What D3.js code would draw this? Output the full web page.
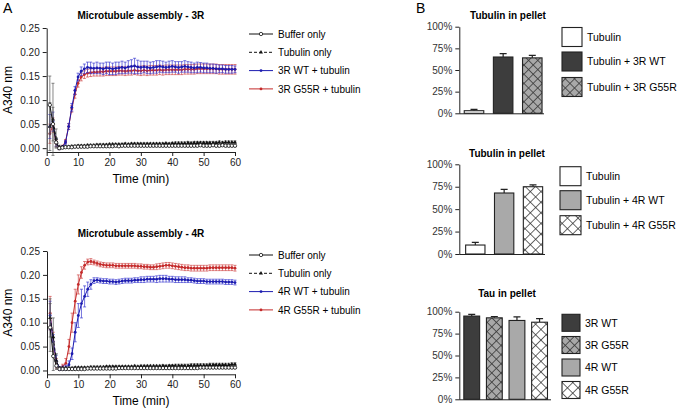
<!DOCTYPE html>
<html>
<head>
<meta charset="utf-8">
<script src="https://cdn.jsdelivr.net/npm/d3@7"></script>
<style>
  html, body { margin: 0; padding: 0; background: #fff; }
  svg { display: block; font-family: "Liberation Sans", Arial, sans-serif; }
</style>
</head>
<body>
<div id="chart"></div>
<script>
// ---- data ----
const times = d3.range(1, 61); // one reading per minute

// 3R panel
const buffer3R = [0.090,0.050,0.012,0.000,0.001,0.002,0.002,0.002,0.003,0.003,
  0.003,0.003,0.003,0.004,0.004,0.004,0.004,0.004,0.004,0.004,
  0.004,0.005,0.004,0.005,0.005,0.005,0.005,0.005,0.005,0.005,
  0.005,0.005,0.005,0.005,0.005,0.005,0.005,0.005,0.005,0.005,
  0.005,0.005,0.005,0.005,0.005,0.005,0.005,0.005,0.006,0.005,
  0.005,0.005,0.006,0.005,0.005,0.006,0.005,0.005,0.005,0.005];
const buffer3RErr = [0.060,0.035,0.010,0.003,0.002,0.002,0.002,0.002,0.002,0.002,
  0.002,0.002,0.002,0.002,0.002,0.002,0.002,0.002,0.002,0.002,
  0.002,0.002,0.002,0.002,0.002,0.002,0.002,0.002,0.002,0.002,
  0.002,0.002,0.002,0.002,0.002,0.002,0.002,0.002,0.002,0.002,
  0.002,0.002,0.002,0.002,0.002,0.002,0.002,0.002,0.002,0.002,
  0.002,0.002,0.002,0.002,0.002,0.002,0.002,0.002,0.002,0.002];
const tubulin3R = [0.045,0.060,0.020,0.002,0.002,0.003,0.003,0.004,0.004,0.005,
  0.005,0.005,0.006,0.006,0.006,0.007,0.007,0.007,0.007,0.008,
  0.008,0.008,0.008,0.008,0.009,0.008,0.009,0.009,0.009,0.009,
  0.009,0.009,0.009,0.009,0.009,0.009,0.009,0.010,0.009,0.010,
  0.010,0.010,0.010,0.010,0.011,0.010,0.011,0.011,0.011,0.011,
  0.011,0.011,0.011,0.011,0.012,0.011,0.012,0.012,0.012,0.012];
const tubulin3RErr = [0.050,0.075,0.020,0.004,0.002,0.002,0.002,0.002,0.002,0.002,
  0.002,0.002,0.002,0.002,0.002,0.002,0.002,0.002,0.002,0.002,
  0.002,0.002,0.002,0.002,0.002,0.002,0.002,0.002,0.002,0.002,
  0.002,0.002,0.002,0.002,0.002,0.002,0.002,0.002,0.002,0.002,
  0.003,0.003,0.003,0.003,0.003,0.003,0.003,0.003,0.003,0.003,
  0.003,0.003,0.003,0.003,0.003,0.003,0.003,0.003,0.003,0.003];
const wt3R = [0.045,0.055,0.012,0.000,0.002,0.012,0.045,0.085,0.120,0.148,
  0.160,0.165,0.168,0.167,0.166,0.167,0.166,0.165,0.167,0.166,
  0.165,0.166,0.167,0.168,0.167,0.169,0.170,0.171,0.169,0.168,
  0.169,0.168,0.167,0.168,0.169,0.170,0.169,0.168,0.169,0.170,
  0.169,0.168,0.169,0.170,0.169,0.168,0.167,0.168,0.168,0.167,
  0.167,0.166,0.166,0.165,0.165,0.165,0.164,0.164,0.164,0.164];
const wt3RErr = [0.025,0.020,0.008,0.003,0.003,0.004,0.006,0.008,0.008,0.008,
  0.009,0.010,0.011,0.012,0.011,0.012,0.011,0.012,0.012,0.013,
  0.012,0.013,0.012,0.013,0.012,0.013,0.014,0.016,0.014,0.013,
  0.012,0.013,0.012,0.012,0.013,0.012,0.012,0.011,0.012,0.012,
  0.011,0.012,0.011,0.012,0.011,0.011,0.010,0.011,0.010,0.010,
  0.010,0.009,0.009,0.009,0.008,0.008,0.008,0.008,0.008,0.007];
const g55r3R = [0.030,0.048,0.010,0.000,0.003,0.014,0.045,0.082,0.112,0.135,
  0.148,0.153,0.156,0.157,0.158,0.158,0.159,0.159,0.160,0.160,
  0.160,0.160,0.161,0.161,0.160,0.161,0.161,0.162,0.161,0.161,
  0.162,0.161,0.162,0.162,0.162,0.163,0.162,0.163,0.163,0.163,
  0.163,0.163,0.163,0.164,0.164,0.164,0.164,0.165,0.165,0.165,
  0.165,0.165,0.165,0.165,0.164,0.164,0.164,0.164,0.164,0.164];
const g55r3RErr = [0.020,0.015,0.007,0.003,0.003,0.004,0.006,0.007,0.008,0.008,
  0.008,0.008,0.008,0.008,0.008,0.008,0.009,0.009,0.009,0.009,
  0.009,0.009,0.009,0.009,0.009,0.009,0.009,0.009,0.009,0.010,
  0.010,0.010,0.010,0.010,0.010,0.010,0.010,0.010,0.010,0.010,
  0.010,0.010,0.010,0.010,0.010,0.010,0.010,0.010,0.010,0.010,
  0.010,0.010,0.010,0.010,0.010,0.010,0.010,0.010,0.010,0.010];

// 4R panel
const buffer4R = [0.090,0.030,0.010,0.003,0.003,0.003,0.003,0.003,0.003,0.003,
  0.003,0.003,0.004,0.004,0.004,0.004,0.004,0.004,0.004,0.004,
  0.004,0.004,0.005,0.005,0.005,0.005,0.005,0.005,0.005,0.005,
  0.005,0.005,0.005,0.005,0.005,0.005,0.005,0.005,0.005,0.005,
  0.005,0.005,0.005,0.005,0.005,0.005,0.005,0.005,0.006,0.006,
  0.006,0.006,0.006,0.006,0.006,0.006,0.006,0.006,0.006,0.006];
const buffer4RErr = [0.050,0.030,0.008,0.002,0.002,0.002,0.002,0.002,0.002,0.002,
  0.002,0.002,0.002,0.002,0.002,0.002,0.002,0.002,0.002,0.002,
  0.002,0.002,0.002,0.002,0.002,0.002,0.002,0.002,0.002,0.002,
  0.002,0.002,0.002,0.002,0.002,0.002,0.002,0.002,0.002,0.002,
  0.002,0.002,0.002,0.002,0.002,0.002,0.002,0.002,0.002,0.002,
  0.002,0.002,0.002,0.002,0.002,0.002,0.002,0.002,0.002,0.002];
const tubulin4R = [0.110,0.070,0.020,0.005,0.005,0.005,0.005,0.005,0.006,0.006,
  0.006,0.006,0.006,0.007,0.007,0.007,0.007,0.007,0.008,0.008,
  0.008,0.008,0.008,0.008,0.008,0.008,0.008,0.009,0.008,0.009,
  0.009,0.009,0.009,0.009,0.009,0.009,0.010,0.009,0.010,0.010,
  0.010,0.010,0.010,0.010,0.010,0.011,0.011,0.011,0.011,0.011,
  0.011,0.012,0.012,0.012,0.012,0.012,0.012,0.012,0.013,0.013];
const tubulin4RErr = [0.040,0.040,0.015,0.003,0.002,0.002,0.002,0.002,0.002,0.002,
  0.002,0.002,0.002,0.002,0.002,0.002,0.002,0.002,0.002,0.002,
  0.002,0.002,0.002,0.002,0.002,0.002,0.002,0.002,0.002,0.002,
  0.002,0.002,0.002,0.002,0.002,0.002,0.002,0.002,0.002,0.002,
  0.003,0.003,0.003,0.003,0.003,0.003,0.003,0.003,0.003,0.003,
  0.003,0.003,0.003,0.003,0.003,0.003,0.003,0.003,0.003,0.003];
const wt4R = [0.115,0.060,0.020,0.004,0.005,0.006,0.012,0.035,0.080,0.115,
  0.140,0.155,0.170,0.180,0.188,0.189,0.188,0.187,0.187,0.186,
  0.186,0.185,0.186,0.187,0.188,0.188,0.188,0.189,0.189,0.190,
  0.190,0.191,0.191,0.191,0.191,0.192,0.192,0.192,0.191,0.191,
  0.190,0.190,0.190,0.190,0.189,0.189,0.188,0.187,0.187,0.187,
  0.186,0.186,0.186,0.186,0.186,0.186,0.185,0.185,0.185,0.184];
const wt4RErr = [0.030,0.015,0.012,0.004,0.004,0.005,0.008,0.012,0.020,0.025,
  0.030,0.022,0.015,0.010,0.006,0.005,0.005,0.005,0.005,0.005,
  0.005,0.005,0.005,0.005,0.005,0.005,0.005,0.005,0.005,0.006,
  0.006,0.006,0.006,0.006,0.007,0.007,0.007,0.007,0.006,0.006,
  0.006,0.006,0.006,0.006,0.005,0.005,0.005,0.005,0.005,0.005,
  0.005,0.005,0.005,0.005,0.005,0.005,0.005,0.005,0.005,0.005];
const g55r4R = [0.120,0.060,0.015,0.004,0.008,0.015,0.050,0.100,0.145,0.180,
  0.205,0.220,0.227,0.228,0.226,0.224,0.222,0.221,0.220,0.220,
  0.220,0.219,0.219,0.219,0.219,0.219,0.219,0.219,0.218,0.218,
  0.217,0.217,0.216,0.216,0.217,0.218,0.219,0.220,0.220,0.219,
  0.218,0.217,0.216,0.215,0.215,0.214,0.214,0.214,0.214,0.214,
  0.214,0.215,0.215,0.215,0.215,0.215,0.215,0.215,0.215,0.214];
const g55r4RErr = [0.035,0.020,0.010,0.004,0.005,0.010,0.015,0.020,0.025,0.020,
  0.012,0.008,0.006,0.006,0.005,0.005,0.005,0.005,0.005,0.005,
  0.005,0.005,0.005,0.005,0.005,0.005,0.005,0.005,0.005,0.005,
  0.005,0.005,0.005,0.005,0.006,0.006,0.006,0.006,0.006,0.006,
  0.006,0.006,0.006,0.006,0.006,0.006,0.006,0.006,0.006,0.006,
  0.006,0.006,0.006,0.006,0.006,0.006,0.006,0.006,0.006,0.006];

const yTicksA = [0, 0.05, 0.10, 0.15, 0.20, 0.25];
const xTicksA = [0, 10, 20, 30, 40, 50, 60];

// bar panels
const pellet3RCats = ['Tubulin', 'Tubulin + 3R WT', 'Tubulin + 3R G55R'];
const pellet3RVals = [3, 65, 64];
const pellet3RErr = [1.5, 4, 3];
const pellet4RCats = ['Tubulin', 'Tubulin + 4R WT', 'Tubulin + 4R G55R'];
const pellet4RVals = [10, 68, 75];
const pellet4RErr = [3, 4, 2];
const tauCats = ['3R WT', '3R G55R', '4R WT', '4R G55R'];
const tauVals = [95, 93, 90, 88];
const tauErr = [2, 1.5, 4, 4];
const pctTicks = [0, 25, 50, 75, 100];

// ---- drawing ----
const W = 683, H = 413;
const BLUE = '#1c1cb0', RED = '#c42a2a';

const svg = d3.select('#chart').append('svg')
    .attr('width', W)
    .attr('height', H);

const defs = svg.append('defs');

// crosshatch fills
function addHatch(id, size, bg, fg, sw) {
    const p = defs.append('pattern')
        .attr('id', id)
        .attr('patternUnits', 'userSpaceOnUse')
        .attr('width', size)
        .attr('height', size)
        .attr('patternTransform', 'rotate(45)');
    p.append('rect').attr('width', size).attr('height', size).attr('fill', bg);
    p.append('line').attr('x1', 0).attr('y1', 0).attr('x2', 0).attr('y2', size)
        .attr('stroke', fg).attr('stroke-width', sw);
    p.append('line').attr('x1', 0).attr('y1', 0).attr('x2', size).attr('y2', 0)
        .attr('stroke', fg).attr('stroke-width', sw);
}
addHatch('hatchGray', 6.5, '#a8a8a8', '#3a3a3a', 1.6);
addHatch('hatchWhite', 7.5, '#ffffff', '#2a2a2a', 1.4);

const fills = {
    white: '#ffffff',
    dark: '#3d3d3d',
    light: '#a9a9a9',
    hatchGray: 'url(#hatchGray)',
    hatchWhite: 'url(#hatchWhite)'
};

function styleAxis(g) {
    g.selectAll('path, line').attr('stroke', '#222').attr('stroke-width', 1);
    g.selectAll('text').attr('font-size', 10).attr('fill', '#222')
        .attr('font-family', '"Liberation Sans", Arial, sans-serif');
}

svg.append('text').attr('x', 3).attr('y', 13).attr('font-size', 14).text('A');
svg.append('text').attr('x', 416).attr('y', 13).attr('font-size', 14).text('B');

/**
 * Time course panel with four series
 */
function drawTimeCourse(opts) {
    const x = d3.scaleLinear().domain([0, 60]).range([opts.left, opts.right]);
    const y = d3.scaleLinear().domain([-0.008, 0.25]).range([opts.bottom, opts.top]);

    const g = svg.append('g');

    g.append('text')
        .attr('x', (opts.left + opts.right) / 2)
        .attr('y', opts.titleY)
        .attr('text-anchor', 'middle')
        .attr('font-size', 10).attr('font-weight', 'bold')
        .text(opts.title);

    g.append('g')
        .attr('transform', `translate(${opts.left},0)`)
        .call(d3.axisLeft(y).tickValues(yTicksA).tickFormat(d3.format('.2f')).tickSize(4).tickSizeOuter(0))
        .call(styleAxis);
    g.append('g')
        .attr('transform', `translate(0,${opts.bottom})`)
        .call(d3.axisBottom(x).tickValues(xTicksA).tickSize(4).tickSizeOuter(0))
        .call(styleAxis);

    g.append('text')
        .attr('x', (opts.left + opts.right) / 2)
        .attr('y', opts.bottom + 31)
        .attr('text-anchor', 'middle')
        .attr('font-size', 12)
        .text('Time (min)');
    g.append('text')
        .attr('transform', `translate(12,${(opts.top + opts.bottom) / 2}) rotate(-90)`)
        .attr('text-anchor', 'middle')
        .attr('font-size', 12)
        .text('A340 nm');

    const line = d3.line().x((d) => x(d.t)).y((d) => y(d.v));

    opts.series.forEach((s) => {
        const pts = times.map((t, i) => ({ t, v: s.values[i], e: s.errors[i] }));
        const sg = g.append('g');

        // error bars
        sg.selectAll('path.err')
            .data(pts)
            .enter()
            .append('path')
            .attr('class', 'err')
            .attr('d', (d) => {
                const cx = x(d.t), y0 = y(d.v - d.e), y1 = y(d.v + d.e);
                return `M${cx - 1.5},${y0}H${cx + 1.5}M${cx},${y0}V${y1}M${cx - 1.5},${y1}H${cx + 1.5}`;
            })
            .attr('fill', 'none')
            .attr('stroke', s.errColor)
            .attr('stroke-width', 0.7);

        sg.append('path')
            .datum(pts)
            .attr('d', line)
            .attr('fill', 'none')
            .attr('stroke', s.color)
            .attr('stroke-width', 1)
            .attr('stroke-dasharray', s.dash || null);

        drawMarkers(sg, pts.map((d) => [x(d.t), y(d.v)]), s);
    });

    // legend
    const lg = g.append('g');
    opts.series.slice().reverse().forEach((s, i) => {
        const ly = opts.legendY + i * 18.3;
        lg.append('line')
            .attr('x1', 249).attr('x2', 273)
            .attr('y1', ly).attr('y2', ly)
            .attr('stroke', s.color)
            .attr('stroke-width', 1)
            .attr('stroke-dasharray', s.dash || null);
        drawMarkers(lg, [[261, ly]], s);
        lg.append('text')
            .attr('x', 278).attr('y', ly + 3.6)
            .attr('font-size', 10)
            .text(s.name);
    });
}

function drawMarkers(parent, coords, s) {
    if (s.marker === 'open') {
        parent.selectAll(null).data(coords).enter().append('circle')
            .attr('cx', (d) => d[0]).attr('cy', (d) => d[1]).attr('r', 1.7)
            .attr('fill', '#fff').attr('stroke', '#111').attr('stroke-width', 0.8);
    } else if (s.marker === 'tri') {
        const sym = d3.symbol().type(d3.symbolTriangle).size(7);
        parent.selectAll(null).data(coords).enter().append('path')
            .attr('transform', (d) => `translate(${d[0]},${d[1]})`)
            .attr('d', sym)
            .attr('fill', '#111');
    } else {
        parent.selectAll(null).data(coords).enter().append('circle')
            .attr('cx', (d) => d[0]).attr('cy', (d) => d[1]).attr('r', 1.4)
            .attr('fill', s.color);
    }
}

drawTimeCourse({
    title: 'Microtubule assembly - 3R',
    left: 46.7, right: 235, top: 28, bottom: 152,
    titleY: 19, legendY: 34,
    series: [
        { name: '3R G55R + tubulin', values: g55r3R, errors: g55r3RErr, color: RED, errColor: '#d04848', marker: 'dot' },
        { name: '3R WT + tubulin', values: wt3R, errors: wt3RErr, color: BLUE, errColor: '#3a3ad0', marker: 'dot' },
        { name: 'Tubulin only', values: tubulin3R, errors: tubulin3RErr, color: '#111', errColor: '#555', marker: 'tri', dash: '3,2' },
        { name: 'Buffer only', values: buffer3R, errors: buffer3RErr, color: '#111', errColor: '#555', marker: 'open' }
    ]
});

drawTimeCourse({
    title: 'Microtubule assembly - 4R',
    left: 47, right: 235, top: 251, bottom: 374.3,
    titleY: 237, legendY: 255,
    series: [
        { name: '4R G55R + tubulin', values: g55r4R, errors: g55r4RErr, color: RED, errColor: '#d04848', marker: 'dot' },
        { name: '4R WT + tubulin', values: wt4R, errors: wt4RErr, color: BLUE, errColor: '#3a3ad0', marker: 'dot' },
        { name: 'Tubulin only', values: tubulin4R, errors: tubulin4RErr, color: '#111', errColor: '#555', marker: 'tri', dash: '3,2' },
        { name: 'Buffer only', values: buffer4R, errors: buffer4RErr, color: '#111', errColor: '#555', marker: 'open' }
    ]
});

/**
 * Bar panel with upper error bars and a boxed legend
 */
function drawBars(opts) {
    const x = d3.scaleBand().domain(opts.cats).range([opts.left, opts.right])
        .paddingInner(opts.padIn).paddingOuter(opts.padOut);
    const y = d3.scaleLinear().domain([0, 100]).range([opts.bottom, opts.top]);
    const g = svg.append('g');

    g.append('text')
        .attr('x', opts.titleX).attr('y', opts.titleY)
        .attr('text-anchor', 'middle')
        .attr('font-size', 10).attr('font-weight', 'bold')
        .text(opts.title);

    g.append('g')
        .attr('transform', `translate(${opts.left},0)`)
        .call(d3.axisLeft(y).tickValues(pctTicks).tickFormat((d) => d + '%').tickSize(4).tickSizeOuter(0))
        .call(styleAxis);
    g.selectAll('.tick text').attr('fill', '#333');
    g.append('line')
        .attr('x1', opts.left).attr('x2', opts.axisEnd)
        .attr('y1', opts.bottom + 0.5).attr('y2', opts.bottom + 0.5)
        .attr('stroke', '#222');

    const rows = opts.cats.map((c, i) => ({ c, v: opts.vals[i], e: opts.errs[i], f: opts.fills[i] }));

    g.selectAll('path.ebar').data(rows).enter().append('path')
        .attr('d', (d) => {
            const cx = x(d.c) + x.bandwidth() / 2;
            return `M${cx},${y(d.v)}V${y(d.v + d.e)}M${cx - 3.5},${y(d.v + d.e)}H${cx + 3.5}`;
        })
        .attr('stroke', '#222').attr('stroke-width', 1.2).attr('fill', 'none');

    g.selectAll('rect.bar').data(rows).enter().append('rect')
        .attr('x', (d) => x(d.c))
        .attr('y', (d) => y(d.v))
        .attr('width', x.bandwidth())
        .attr('height', (d) => y(0) - y(d.v))
        .attr('fill', (d) => fills[d.f])
        .attr('stroke', '#222').attr('stroke-width', 1.1);

    rows.forEach((d, i) => {
        const by = opts.legendY[i];
        g.append('rect')
            .attr('x', opts.legendX).attr('y', by)
            .attr('width', opts.boxW).attr('height', opts.boxH)
            .attr('fill', fills[d.f])
            .attr('stroke', '#222').attr('stroke-width', 1.1);
        g.append('text')
            .attr('x', opts.legendX + opts.boxW + 5)
            .attr('y', by + opts.boxH / 2 + 3.8)
            .attr('font-size', 10.5)
            .text(d.c);
    });
}

drawBars({
    title: 'Tubulin in pellet', titleX: 508, titleY: 19,
    cats: pellet3RCats, vals: pellet3RVals, errs: pellet3RErr,
    fills: ['white', 'dark', 'hatchGray'],
    left: 459.3, right: 547, top: 26.7, bottom: 113.3, axisEnd: 544,
    padIn: 0.33, padOut: 0.17,
    legendX: 562, legendY: [27.5, 52, 77.5], boxW: 20, boxH: 19
});

drawBars({
    title: 'Tubulin in pellet', titleX: 507, titleY: 157,
    cats: pellet4RCats, vals: pellet4RVals, errs: pellet4RErr,
    fills: ['white', 'light', 'hatchWhite'],
    left: 459.3, right: 549, top: 164.3, bottom: 254, axisEnd: 545,
    padIn: 0.33, padOut: 0.22,
    legendX: 560, legendY: [166.7, 190.7, 215.7], boxW: 21, boxH: 19
});

drawBars({
    title: 'Tau in pellet', titleX: 507, titleY: 297,
    cats: tauCats, vals: tauVals, errs: tauErr,
    fills: ['dark', 'hatchGray', 'light', 'hatchWhite'],
    left: 459.3, right: 552, top: 311.7, bottom: 399.3, axisEnd: 551,
    padIn: 0.3, padOut: 0.2,
    legendX: 562, legendY: [314.3, 336.5, 359, 381.5], boxW: 18, boxH: 17
});
</script>
</body>
</html>
